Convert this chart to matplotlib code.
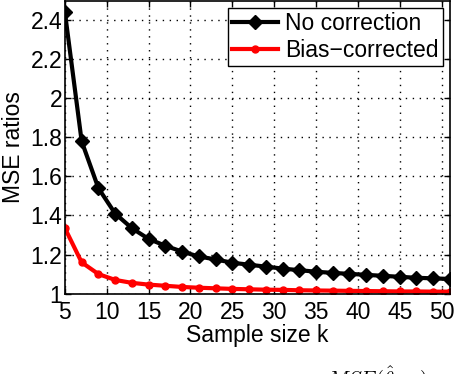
import numpy as np
import matplotlib
matplotlib.use("Agg")
import matplotlib.pyplot as plt

plt.rcParams['font.family'] = ['Liberation Sans', 'DejaVu Sans']
plt.rcParams['mathtext.fontset'] = 'cm'

# sample sizes k = 5, 7, ..., 51
k = [5, 7, 9, 11, 13, 15, 17, 19, 21, 23, 25, 27, 29, 31, 33, 35, 37, 39, 41, 43, 45, 47, 49, 51]
no_correction = [2.44, 1.78, 1.54, 1.41, 1.335, 1.28, 1.245, 1.215, 1.19, 1.175, 1.158, 1.148,
                 1.138, 1.128, 1.12, 1.112, 1.106, 1.101, 1.096, 1.091, 1.086, 1.081, 1.078, 1.075]
bias_corrected = [1.335, 1.16, 1.10, 1.07, 1.055, 1.046, 1.04, 1.034, 1.03, 1.027, 1.024, 1.022,
                  1.02, 1.019, 1.017, 1.016, 1.015, 1.014, 1.013, 1.012, 1.011, 1.011, 1.01, 1.01]
xticks = [5, 10, 15, 20, 25, 30, 35, 40, 45, 50]
yticks = [1, 1.2, 1.4, 1.6, 1.8, 2, 2.2, 2.4]

fig = plt.figure(figsize=(4.54, 3.74), dpi=100)
ax = fig.add_axes([0.143, 0.215, 0.848, 0.783])

ax.plot(k, no_correction, color='black', lw=3, marker='D', ms=7, label='No correction')
ax.plot(k, bias_corrected, color='red', lw=3, marker='o', ms=5, label='Bias\u2212corrected')

ax.set_xlim(5, 51)
ax.set_ylim(1, 2.5)
ax.set_xticks(xticks)
ax.set_yticks(yticks)
ax.set_yticklabels(['1', '1.2', '1.4', '1.6', '1.8', '2', '2.2', '2.4'])
ax.tick_params(labelsize=16.5, direction='in', length=4, width=1, top=True, right=True)
ax.tick_params(axis='x', pad=5.5)
ax.tick_params(axis='y', pad=2)
ax.grid(True, color='black', linestyle=(0, (1, 4)), linewidth=1)
for s in ax.spines.values():
    s.set_linewidth(1.2)

ax.set_xlabel('Sample size k', fontsize=16.5, labelpad=0)
ax.set_ylabel('MSE ratios', fontsize=16.5, labelpad=4)

leg = ax.legend(loc='upper right', fontsize=16.5, fancybox=False, framealpha=1,
                edgecolor='black', handlelength=2.0, handletextpad=0.3,
                borderpad=0.2, labelspacing=0.15, borderaxespad=0.3)
leg.get_frame().set_linewidth(1)

# top of a caption formula cut off at the bottom of the image
fig.text(327 / 454, 10 / 374, r'$MSE(\hat{\theta}_{ML})$', fontsize=15, va='top')

fig.savefig('out.png', dpi=100)
